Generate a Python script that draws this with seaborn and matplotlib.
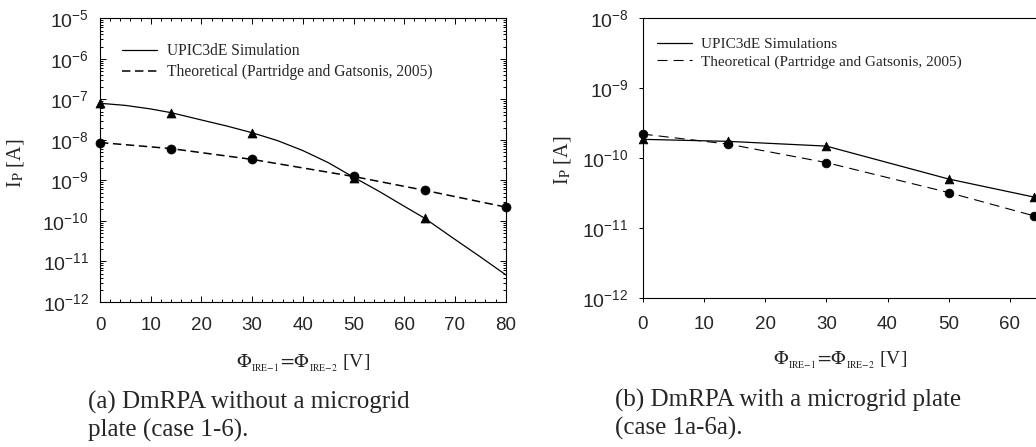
import matplotlib
matplotlib.use("Agg")
import matplotlib.pyplot as plt
import matplotlib.ticker as mticker
import seaborn as sns

# (a) without microgrid plate
a_sim_x = [0, 14, 30, 50, 64]
a_sim_y = [8.0e-8, 4.7e-8, 1.5e-8, 1.15e-9, 1.17e-10]
# smooth simulation curve
a_curve_x = [0, 5, 10, 14, 20, 25, 30, 35, 40, 45, 50, 55, 60, 64, 70, 75, 80]
a_curve_y = [8.0e-8, 7.1e-8, 5.8e-8, 4.7e-8, 3.1e-8, 2.2e-8, 1.5e-8, 9.6e-9, 5.45e-9,
             2.75e-9, 1.2e-9, 5.4e-10, 2.3e-10, 1.17e-10, 3.5e-11, 1.3e-11, 4.7e-12]
a_th_x = [0, 14, 30, 50, 64, 80]
a_th_y = [8.6e-9, 6.1e-9, 3.3e-9, 1.25e-9, 5.7e-10, 2.2e-10]

# (b) with microgrid plate
b_sim_x = [0, 14, 30, 50, 64]
b_sim_y = [1.85e-10, 1.73e-10, 1.48e-10, 5.0e-11, 2.75e-11]
b_th_x = [0, 14, 30, 50, 64]
b_th_y = [2.2e-10, 1.58e-10, 8.6e-11, 3.2e-11, 1.48e-11]

sim_label_a = "UPIC3dE Simulation"
sim_label_b = "UPIC3dE Simulations"
th_label = "Theoretical (Partridge and Gatsonis, 2005)"
xlabel = r"$\Phi_{_{\mathrm{IRE{-}1}}}\!=\!\Phi_{_{\mathrm{IRE{-}2}}}$ [V]"
ylabel = r"I$_{\mathrm{P}}$ [A]"

sns.set_style("ticks")
plt.rcParams["font.family"] = ["Liberation Sans", "DejaVu Sans"]
plt.rcParams["axes.unicode_minus"] = False
plt.rcParams["axes.linewidth"] = 0.8
plt.rcParams["axes.edgecolor"] = "black"

serif = "Liberation Serif"

fig = plt.figure(figsize=(10.36, 4.47), dpi=100)
W, H = 1036, 447

def px_axes(l, t, r, b):
    return fig.add_axes([l / W, 1 - b / H, (r - l) / W, (b - t) / H])

# ---------- left panel ----------
ax1 = px_axes(100, 18.3, 505.7, 302)
ax1.set_yscale("log")
sns.lineplot(x=a_curve_x, y=a_curve_y, ax=ax1, color="black", lw=0.9, label=sim_label_a)
sns.lineplot(x=a_th_x, y=a_th_y, ax=ax1, color="black", lw=1.1, ls=(0, (5.5, 3)), label=th_label)
sns.scatterplot(x=a_sim_x, y=a_sim_y, ax=ax1, marker="^", s=42, color="black",
                edgecolor="black", clip_on=False, zorder=5, legend=False)
sns.scatterplot(x=a_th_x, y=a_th_y, ax=ax1, marker="o", s=42, color="black",
                edgecolor="black", clip_on=False, zorder=5, legend=False)
ax1.set_xlim(0, 80)
ax1.set_ylim(1e-12, 1e-5)
ax1.xaxis.set_major_locator(mticker.MultipleLocator(10))
ax1.xaxis.set_minor_locator(mticker.MultipleLocator(2))
ax1.yaxis.set_major_locator(mticker.LogLocator(base=10, numticks=20))
ax1.yaxis.set_minor_locator(mticker.LogLocator(base=10, subs=range(2, 10), numticks=20))
ax1.yaxis.set_minor_formatter(mticker.NullFormatter())
ax1.tick_params(which="both", direction="in", top=True, right=True, color="black", width=0.7)
ax1.tick_params(which="major", length=4.5)
ax1.tick_params(which="minor", length=2.5)
ax1.tick_params(axis="x", which="major", pad=11, labelsize=13.5)
ax1.tick_params(axis="y", which="major", pad=8, labelsize=14)
ax1.set_xlabel(xlabel, fontfamily=serif, math_fontfamily="stix", fontsize=14)
ax1.xaxis.set_label_coords(0.5, -0.178)
ax1.set_ylabel(ylabel, fontfamily=serif, math_fontfamily="stix", fontsize=14.5)
ax1.yaxis.set_label_coords(-0.182, 0.49)
ax1.legend(loc="upper left", bbox_to_anchor=(0.055, 0.912), frameon=False,
           borderaxespad=0, borderpad=0, handlelength=2.2, handletextpad=0.7,
           labelspacing=0.33, prop={"family": serif, "size": 11.2})

# ---------- right panel ----------
ax2 = px_axes(642.7, 18.3, 642.7 + 70 * 6.12, 297.7)
ax2.set_yscale("log")
sns.lineplot(x=b_sim_x, y=b_sim_y, ax=ax2, color="black", lw=0.9, label=sim_label_b)
sns.lineplot(x=b_th_x, y=b_th_y, ax=ax2, color="black", lw=0.8, ls=(0, (9, 5.5)), label=th_label)
sns.scatterplot(x=b_sim_x, y=b_sim_y, ax=ax2, marker="^", s=40, color="black",
                edgecolor="black", clip_on=False, zorder=5, legend=False)
sns.scatterplot(x=b_th_x, y=b_th_y, ax=ax2, marker="o", s=40, color="black",
                edgecolor="black", clip_on=False, zorder=5, legend=False)
ax2.set_xlim(0, 70)
ax2.set_ylim(1e-12, 1e-8)
ax2.set_xticks(range(0, 70, 10))
ax2.yaxis.set_major_locator(mticker.LogLocator(base=10, numticks=20))
ax2.yaxis.set_minor_locator(mticker.NullLocator())
ax2.tick_params(which="major", direction="out", length=3.2, width=0.7, color="black")
ax2.tick_params(axis="x", pad=10, labelsize=13.5)
ax2.tick_params(axis="y", pad=7, labelsize=14)
ax2.set_xlabel(xlabel, fontfamily=serif, math_fontfamily="stix", fontsize=14)
ax2.xaxis.set_label_coords(0.46, -0.185)
ax2.set_ylabel(ylabel, fontfamily=serif, math_fontfamily="stix", fontsize=14.5)
ax2.yaxis.set_label_coords(-0.163, 0.49)
ax2.legend(loc="upper left", bbox_to_anchor=(0.033, 0.932), frameon=False,
           borderaxespad=0, borderpad=0, handlelength=2.3, handletextpad=0.6,
           labelspacing=0.25, prop={"family": serif, "size": 11.0})

# ---------- captions ----------
cap = {"family": serif, "fontsize": 18, "va": "baseline", "ha": "left"}
fig.text(88 / W, 1 - 409 / H, "(a) DmRPA without a microgrid", **cap)
fig.text(88 / W, 1 - 437 / H, "plate (case 1-6).", **cap)
fig.text(615 / W, 1 - 407 / H, "(b) DmRPA with a microgrid plate", **cap)
fig.text(615 / W, 1 - 435 / H, "(case 1a-6a).", **cap)

fig.savefig("out.png", dpi=100)
